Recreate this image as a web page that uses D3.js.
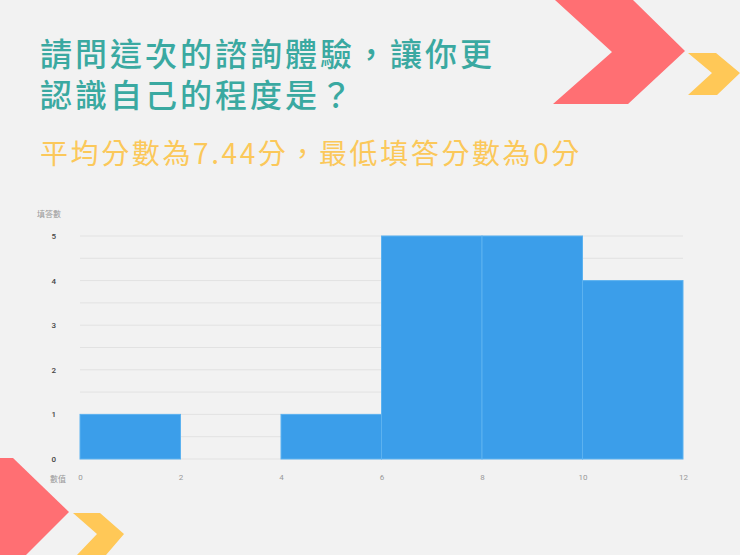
<!DOCTYPE html>
<html>
<head>
<meta charset="utf-8">
<script src="https://cdn.jsdelivr.net/npm/d3@7"></script>
<style>
  body { margin: 0; background: #f2f2f2; }
  #chart-area { position: relative; width: 740px; height: 555px; }
  svg { display: block; font-family: "Noto Sans CJK TC", "Noto Sans", sans-serif; }
  .title {
    position: absolute; left: 40px; top: 31.5px;
    font-family: "Noto Sans CJK TC", sans-serif;
    font-size: 32px; font-weight: 500; letter-spacing: 3px;
    line-height: 41px; color: #3aa9a1; white-space: nowrap;
  }
</style>
</head>
<body>
<div id="chart-area"></div>
<script>
const titleLines = ["請問這次的諮詢體驗，讓你更", "認識自己的程度是？"]
const subtitle = "平均分數為7.44分，最低填答分數為0分"
const binStarts = [0, 2, 4, 6, 8, 10]
const binWidth = 2
const counts = [1, 0, 1, 5, 5, 4]
const xTicks = [0, 2, 4, 6, 8, 10, 12]
const yTicks = [0, 1, 2, 3, 4, 5]
const yLabel = "填答數"
const xLabel = "數值"

const W = 740, H = 555
const MARGIN = { LEFT: 80, RIGHT: 57, TOP: 236, BOTTOM: 96 }
const WIDTH = W - MARGIN.LEFT - MARGIN.RIGHT
const HEIGHT = H - MARGIN.TOP - MARGIN.BOTTOM

const svg = d3.select("#chart-area").append("svg")
    .attr("width", W)
    .attr("height", H)

svg.append("rect").attr("width", W).attr("height", H).attr("fill", "#f2f2f2")

// decorative chevrons
const deco = svg.append("g")
deco.append("polygon").attr("fill", "#ff6f73")
    .attr("points", "555,0 633,0 685,51 628,104 553,104 612,52")
deco.append("polygon").attr("fill", "#ffc857")
    .attr("points", "688,53 716,53 740,73 717,95 688,95 712,73")
deco.append("polygon").attr("fill", "#ff6f73")
    .attr("points", "0,458 13,458 69,512 26,555 0,555")
deco.append("polygon").attr("fill", "#ffc857")
    .attr("points", "73,513 100,513 124,534 106,555 77,555 97,534")

// title as an html block so the two tight lines share line boxes
d3.select("#chart-area").append("div")
    .attr("class", "title")
    .selectAll("div")
    .data(titleLines)
    .enter().append("div")
    .text(d => d)

svg.append("text")
    .attr("x", 40)
    .attr("y", 164)
    .attr("font-size", "28px")
    .attr("letter-spacing", "2.6px")
    .attr("fill", "#fbc85a")
    .text(subtitle)

const g = svg.append("g")
    .attr("transform", `translate(${MARGIN.LEFT}, ${MARGIN.TOP})`)

const x = d3.scaleLinear().domain([0, 12]).range([0, WIDTH])
const y = d3.scaleLinear().domain([0, 5]).range([HEIGHT, 0])

// gridlines every half step
g.append("g")
    .selectAll("line")
    .data(d3.range(0, 5.01, 0.5))
    .enter().append("line")
    .attr("x1", 0).attr("x2", WIDTH)
    .attr("y1", d => y(d)).attr("y2", d => y(d))
    .attr("stroke", "#e2e2e2")
    .attr("stroke-width", 1)

// bars
g.selectAll("rect.bar")
    .data(counts)
    .enter().append("rect")
    .attr("class", "bar")
    .attr("x", (d, i) => x(binStarts[i]))
    .attr("y", d => y(d))
    .attr("width", x(binWidth) - x(0))
    .attr("height", d => HEIGHT - y(d))
    .attr("fill", "#3b9eea")
    .attr("stroke", "#5cb2f0")
    .attr("stroke-width", 1)
    .attr("display", d => d > 0 ? null : "none")

// y axis
const yAxisCall = d3.axisLeft(y).tickValues(yTicks).tickSize(0).tickPadding(24)
    .tickFormat(d3.format("d"))
const yAxis = g.append("g").call(yAxisCall)
yAxis.select(".domain").remove()
yAxis.selectAll("text").attr("font-size", "8px").attr("fill", "#444")
    .attr("font-weight", 500)
    .attr("font-family", "Roboto, sans-serif")

// x axis
const xAxisCall = d3.axisBottom(x).tickValues(xTicks).tickSize(0).tickPadding(15)
    .tickFormat(d3.format("d"))
const xAxis = g.append("g").attr("transform", `translate(0, ${HEIGHT})`).call(xAxisCall)
xAxis.select(".domain").remove()
xAxis.selectAll("text").attr("font-size", "8px").attr("fill", "#999")
    .attr("font-family", "Roboto, sans-serif")

// axis labels
g.append("text")
    .attr("x", -43).attr("y", -19)
    .attr("font-size", "8px").attr("fill", "#999")
    .text(yLabel)

g.append("text")
    .attr("x", -30).attr("y", HEIGHT + 23)
    .attr("font-size", "8px").attr("fill", "#999")
    .text(xLabel)
</script>
</body>
</html>
